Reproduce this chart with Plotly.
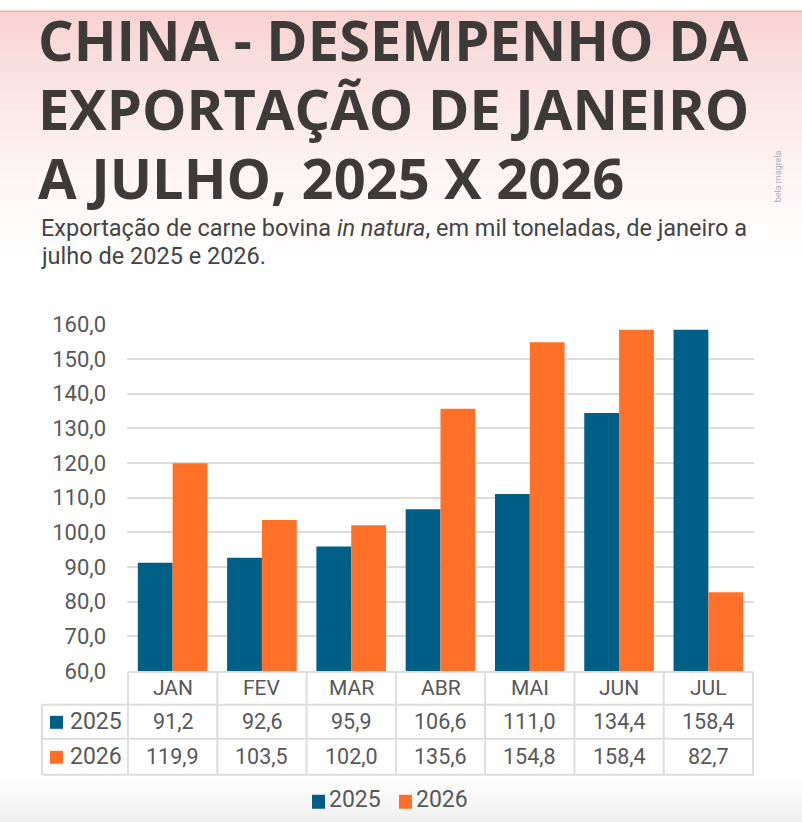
import plotly.graph_objects as go

# dados: exportação de carne bovina in natura para a China (mil t)
meses = ['JAN', 'FEV', 'MAR', 'ABR', 'MAI', 'JUN', 'JUL']
v2025 = [91.2, 92.6, 95.9, 106.6, 111.0, 134.4, 158.4]
v2026 = [119.9, 103.5, 102.0, 135.6, 154.8, 158.4, 82.7]
anos = ['2025', '2026']

cor = {'2025': '#005f86', '2026': '#ff7029'}
txt = '#585858'
W, H = 802, 836


def px_x(p):
    return p / W


def px_y(p):
    # ajuste vertical da captura (a página sai levemente comprimida)
    return 1 - ((p - 11.5) / 0.971) / H


def fmt(v):
    return ('%.1f' % v).replace('.', ',')


fig = go.Figure()
fig.add_trace(go.Bar(x=meses, y=v2025, name='2025', marker=dict(color=cor['2025'], line=dict(width=0))))
fig.add_trace(go.Bar(x=meses, y=v2026, name='2026', marker=dict(color=cor['2026'], line=dict(width=0))))

shapes = []
ann = []

# fundo: degradê avermelhado no topo e cinza claro no rodapé
for i in range(26):
    y0 = i * 10
    shapes.append(dict(type='rect', xref='paper', yref='paper', layer='below',
                       x0=0, x1=1, y0=px_y(y0 + 10), y1=px_y(y0) if i else 1,
                       fillcolor='rgba(225,60,60,%.3f)' % (0.24 * (1 - i / 26) ** 1.4), line_width=0))
for i in range(10):
    y0 = 780 + i * 4.2
    shapes.append(dict(type='rect', xref='paper', yref='paper', layer='below',
                       x0=0, x1=1, y0=px_y(y0 + 4.2) if i < 9 else 0, y1=px_y(y0),
                       fillcolor='rgba(0,0,0,%.3f)' % (0.006 * (i + 1)), line_width=0))

# título
titulo = ['CHINA - DESEMPENHO DA', 'EXPORTAÇÃO DE JANEIRO', 'A JULHO, 2025 X 2026']
ty = [39, 108, 177]
for s, y in zip(titulo, ty):
    ann.append(dict(text='<b>%s</b>' % s, xref='paper', yref='paper', x=px_x(36), y=px_y(y),
                    xanchor='left', yanchor='middle', showarrow=False,
                    font=dict(family='Open Sans', size=56, color='#3d3a38')))

sub = ['Exportação de carne bovina <i>in natura</i>, em mil toneladas, de janeiro a',
       'julho de 2025 e 2026.']
for s, y in zip(sub, [228, 256]):
    ann.append(dict(text=s, xref='paper', yref='paper', x=px_x(39), y=px_y(y),
                    xanchor='left', yanchor='middle', showarrow=False,
                    font=dict(family='Roboto', size=23.5, color='#444444')))

ann.append(dict(text='bela magrela', xref='paper', yref='paper', x=px_x(785), y=px_y(176),
                yanchor='middle', textangle=-90, showarrow=False,
                font=dict(family='Roboto', size=9, color='#b0b0b0')))

# tabela de dados abaixo do gráfico
linha = '#dddddd'
tab_top, tab_rows = 672, [705, 739, 775]
shapes.append(dict(type='line', xref='x', yref='paper', x0=-0.5, x1=6.5,
                   y0=px_y(tab_top), y1=px_y(tab_top), line=dict(color=linha, width=2)))
for r in tab_rows:
    shapes.append(dict(type='line', xref='paper', yref='paper', x0=px_x(42), x1=px_x(754),
                       y0=px_y(r), y1=px_y(r), line=dict(color=linha, width=2)))
shapes.append(dict(type='line', xref='paper', yref='paper', x0=px_x(42), x1=px_x(42),
                   y0=px_y(705), y1=px_y(775), line=dict(color=linha, width=2)))
for i in range(len(meses) + 1):
    shapes.append(dict(type='line', xref='x', yref='paper', x0=i - 0.5, x1=i - 0.5,
                       y0=px_y(tab_top), y1=px_y(775), line=dict(color=linha, width=2)))

for m in meses:
    ann.append(dict(text=m, xref='x', yref='paper', x=m, y=px_y(688), yanchor='middle',
                    showarrow=False, font=dict(family='Roboto', size=21, color=txt)))
for ano, vals, y in zip(anos, [v2025, v2026], [722, 757]):
    shapes.append(dict(type='rect', xref='paper', yref='paper', x0=px_x(50), x1=px_x(63),
                       y0=px_y(y + 7), y1=px_y(y - 6), fillcolor=cor[ano], line_width=0))
    ann.append(dict(text=ano, xref='paper', yref='paper', x=px_x(68), y=px_y(y), xanchor='left',
                    yanchor='middle', showarrow=False, font=dict(family='Roboto', size=23, color=txt)))
    for m, v in zip(meses, vals):
        ann.append(dict(text=fmt(v), xref='x', yref='paper', x=m, y=px_y(y), yanchor='middle',
                        showarrow=False, font=dict(family='Roboto', size=21.5, color=txt)))

# legenda inferior
leg_x = {'2025': 312, '2026': 399}
for ano in anos:
    x0 = leg_x[ano]
    shapes.append(dict(type='rect', xref='paper', yref='paper', x0=px_x(x0), x1=px_x(x0 + 13),
                       y0=px_y(809), y1=px_y(795), fillcolor=cor[ano], line_width=0))
    ann.append(dict(text=ano, xref='paper', yref='paper', x=px_x(x0 + 15), y=px_y(800),
                    xanchor='left', yanchor='middle', showarrow=False,
                    font=dict(family='Roboto', size=23, color=txt)))

fig.update_layout(
    width=W, height=H,
    margin=dict(l=0, r=0, t=0, b=0),
    paper_bgcolor='white', plot_bgcolor='rgba(0,0,0,0)',
    barmode='group', bargap=0.22, bargroupgap=0,
    font=dict(family='Roboto', color=txt),
    shapes=shapes, annotations=ann,
    showlegend=False,
)
fig.update_xaxes(domain=[px_x(127), px_x(754)], showticklabels=False, showgrid=False,
                 showline=False, ticks='')
fig.update_yaxes(domain=[px_y(671), px_y(324)], range=[60, 160], dtick=10, tickformat='.1f',
                 showgrid=True, gridcolor='#dcdcdc', gridwidth=2, zeroline=False,
                 tickfont=dict(size=22, color=txt), ticklabelstandoff=20)
fig.update_layout(separators=',.')

fig.write_html('out.html', config={'displayModeBar': False},
               post_script="document.body.style.margin='0';")
